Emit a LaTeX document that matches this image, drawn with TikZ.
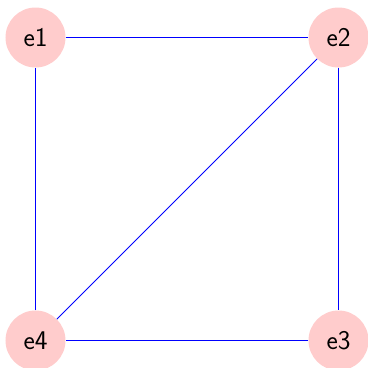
\documentclass[tikz,border=0pt]{standalone}
\begin{document}
\begin{tikzpicture}[x=1pt,y=-1pt,
  vnode/.style={circle,fill=red!20,minimum size=60pt,inner sep=0pt,font=\sffamily\fontsize{27}{32}\selectfont},
  edge/.style={blue,line width=1pt}]
\useasboundingbox (0,0) rectangle (368,368);
\node[vnode] (e1) at (35.5,37.5) {e1};
\node[vnode] (e2) at (338.5,37.5) {e2};
\node[vnode] (e3) at (338.5,340.5) {e3};
\node[vnode] (e4) at (35.5,340.5) {e4};
\draw[edge] (e1) -- (e2);
\draw[edge] (e2) -- (e3);
\draw[edge] (e3) -- (e4);
\draw[edge] (e4) -- (e1);
\draw[edge] (e4) -- (e2);
\end{tikzpicture}
\end{document}
